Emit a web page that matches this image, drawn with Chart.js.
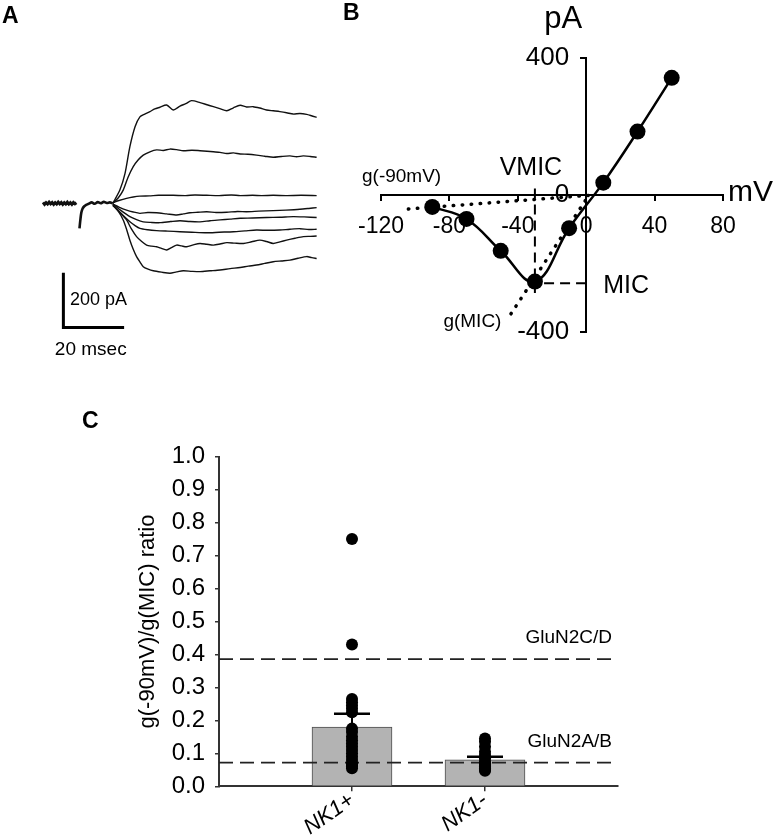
<!DOCTYPE html>
<html><head><meta charset="utf-8">
<script src="https://cdn.jsdelivr.net/npm/chart.js@4.4.0/dist/chart.umd.min.js"></script>
<style>
html,body{margin:0;padding:0;background:#fff;width:780px;height:839px;overflow:hidden;}
canvas{position:absolute;}
#cA{left:0;top:0;} #cB{left:330px;top:0;} #cC{left:0;top:380px;}
</style></head><body>
<canvas id="cA" width="340" height="375"></canvas>
<canvas id="cB" width="450" height="350"></canvas>
<canvas id="cC" width="780" height="459"></canvas>
<script>
// ---------- Panel A: current traces (time ms, current pA) ----------
const baselineTrace = [[0,3],[0.5,-4],[1,2],[1.5,-3],[2,4],[2.5,-2],[3,3],[3.5,-4],[4,2],[4.5,-3],[5,4],[5.5,-2],[6,3],[6.5,-4],[7,2],[7.5,-3],[8,4],[8.5,-3],[9,2],[9.5,-4],[10,3],[10.5,-2],[11,2]];
const onsetTrace = [[12,-92],[12.3,-60],[12.6,-35],[13,-20],[13.5,-12],[14.2,-6],[15,-2],[16,3],[17,-2],[18,4],[19,0],[20,5],[21,1],[22,3],[23,0]];
const trace1 = [[23,0],[25.3,48],[27,109],[28.6,207],[30.3,280],[31.9,316],[33.5,326],[35.2,335],[36.8,345],[38.5,351],[40.7,359],[42.9,341],[45.1,355],[47,364],[48.9,375],[51.7,368],[54,360],[56.1,353],[58.2,346],[60.5,338],[62.7,349],[64.9,358],[67,352],[69.2,353],[71.4,348],[73.6,341],[75.8,338],[78,335],[80.2,331],[82.4,326],[84.6,328],[86.8,325],[88.4,320],[90.1,314]];
const trace2 = [[23,0],[24.8,20],[26.4,48],[28,95],[29.7,134],[31.3,158],[33,176],[35.2,188],[37.4,195],[39.6,193],[41.8,198],[44,196],[46.2,192],[49,194],[51.7,192],[54,190],[56.1,188],[58.3,186],[60.5,182],[62.7,184],[64.9,180],[67.5,179],[70.3,176],[73,172],[75.8,168],[78.5,171],[81.3,173],[83.5,170],[85.7,173],[88,171],[90.1,168]];
const trace3 = [[23,2],[25,10],[27.5,18],[29.7,23],[31.9,26],[35,27],[38,29],[42.9,29],[47,28],[50,30],[53.9,29],[58,28],[62,30],[64.9,28],[69,29],[72,28],[75.8,29],[80,28],[85,29],[90.1,28]];
const trace4 = [[23,-3],[25,-14],[27.5,-25],[29.7,-32],[31.9,-37],[34.5,-34],[37.4,-35],[40.7,-39],[44,-43],[46.2,-39],[48.4,-35],[51,-33],[53.9,-31],[57,-34],[60.5,-33],[64,-30],[67,-31],[71,-29],[75.8,-27],[80,-25],[84.6,-22],[87.5,-19],[90.1,-16]];
const trace5 = [[23,-3],[25.5,-25],[28.6,-49],[30.8,-60],[33,-68],[35.5,-70],[38.5,-71],[42,-67],[45.1,-64],[48.4,-67],[51.7,-68],[55,-64],[58.3,-61],[61.6,-58],[64.9,-55],[69,-54],[73.6,-52],[78,-51],[82.4,-49],[86,-50],[90.1,-52]];
const trace6 = [[23,-5],[25.5,-35],[28.6,-68],[30.3,-82],[31.9,-92],[34.5,-97],[37.4,-100],[41,-102],[45.1,-104],[49,-106],[53.9,-108],[58,-106],[62.7,-104],[66.5,-101],[70.3,-98],[74,-99],[78,-98],[81.3,-95],[84.6,-93],[87.5,-96],[90.1,-95]];
const trace7 = [[23,-6],[25,-30],[27.5,-61],[29,-92],[30.8,-122],[32.5,-140],[34.1,-153],[35.7,-157],[37.4,-159],[39,-165],[40.7,-171],[42.3,-162],[44,-153],[45.6,-156],[47.3,-159],[49.5,-152],[51.7,-147],[53.9,-150],[56.1,-153],[58.3,-149],[60.5,-144],[63.2,-146],[66,-147],[68.7,-141],[71.4,-135],[73.6,-140],[75.8,-147],[78,-141],[80.2,-135],[83,-128],[85.7,-122],[88,-121],[90.1,-120]];
const trace8 = [[23,-8],[24.8,-30],[26.4,-61],[27.5,-95],[28.6,-135],[29.7,-168],[30.8,-195],[32,-216],[33,-232],[34.6,-241],[36.3,-247],[39,-252],[41.8,-256],[44,-251],[46.2,-247],[49,-249],[51.7,-250],[55,-247],[58.3,-244],[61.6,-239],[64.9,-235],[67.6,-230],[70.3,-226],[73,-220],[75.8,-214],[78.5,-211],[81.3,-208],[84,-201],[86.8,-195],[88.5,-199],[90.1,-202]];
const scaleBarAmp = 200;   // pA
const scaleBarTime = 20;   // ms
const scaleBarOrigin = [6.7, -454];

// ---------- Panel B: I-V relation ----------
const ivVoltages = [-90,-70,-50,-30,-10,10,30,50];
const ivCurrents = [-34,-69,-162,-252,-96,37,186,343];
const vmicValue = -30;
const micValue = -257;
const g90Chord = [[-104,-40],[2,0]];
const gMicChord = [[-44,-346],[1,-4]];

// ---------- Panel C: conductance ratio ----------
const groupLabels = ['NK1+','NK1-'];
const meanRatios = [0.18, 0.08];
const semUpper = [0.22, 0.09];
const nk1PosRatios = [0.75,0.43,0.265,0.255,0.245,0.235,0.225,0.175,0.165,0.15,0.14,0.13,0.12,0.11,0.10,0.09,0.08,0.07,0.065,0.06,0.055];
const nk1NegRatios = [0.145,0.135,0.12,0.105,0.095,0.085,0.075,0.07,0.065,0.06,0.055,0.05,0.047];
const gluN2CDLevel = 0.386;
const gluN2ABLevel = 0.072;

const FONT = '"Liberation Sans", Arial, Helvetica, sans-serif';
Chart.defaults.font.family = FONT;
Chart.defaults.color = '#000';
Chart.defaults.animation = false;
Chart.defaults.plugins.legend.display = false;
Chart.defaults.plugins.tooltip.enabled = false;

function drawText(ctx, s, x, y, size, align, base, style) {
  ctx.save();
  ctx.font = (style ? style + ' ' : '') + size + 'px ' + FONT;
  ctx.fillStyle = '#000';
  ctx.textAlign = align || 'left';
  ctx.textBaseline = base || 'alphabetic';
  ctx.fillText(s, x, y);
  ctx.restore();
}
const xy = arr => arr.map(p => ({x: p[0], y: p[1]}));

// ---------- Chart A ----------
const traceSets = [trace1,trace2,trace3,trace4,trace5,trace6,trace7,trace8].map(t => ({
  data: xy(t), borderColor: '#111', borderWidth: 1.4, pointRadius: 0, tension: 0.25
}));
const scaleBarData = [
  {x: scaleBarOrigin[0], y: scaleBarOrigin[1] + scaleBarAmp},
  {x: scaleBarOrigin[0], y: scaleBarOrigin[1]},
  {x: scaleBarOrigin[0] + scaleBarTime, y: scaleBarOrigin[1]}
];
new Chart(document.getElementById('cA'), {
  type: 'line',
  data: { datasets: [
    {data: xy(baselineTrace), borderColor: '#111', borderWidth: 3, pointRadius: 0, tension: 0},
    {data: xy(onsetTrace), borderColor: '#111', borderWidth: 2.6, pointRadius: 0, tension: 0.3},
    ...traceSets,
    {data: scaleBarData, borderColor: '#000', borderWidth: 3, pointRadius: 0, tension: 0, borderJoinStyle: 'miter'}
  ]},
  options: {
    responsive: false,
    layout: {padding: {left: 40, right: 10, top: 90, bottom: 35}},
    scales: {
      x: {type: 'linear', min: -1, max: 94.5, display: false},
      y: {type: 'linear', min: -500, max: 414, display: false}
    }
  },
  plugins: [{id: 'annA', afterDraw(chart) {
    const ctx = chart.ctx, xs = chart.scales.x, ys = chart.scales.y;
    drawText(ctx, 'A', 2, 23, 23, 'left', 'alphabetic', 'bold');
    drawText(ctx, scaleBarAmp + ' pA', xs.getPixelForValue(scaleBarOrigin[0]) + 6.5, ys.getPixelForValue(scaleBarOrigin[1] + scaleBarAmp / 2), 18, 'left', 'middle');
    drawText(ctx, scaleBarTime + ' msec', xs.getPixelForValue(scaleBarOrigin[0] + scaleBarTime / 2) - 3, ys.getPixelForValue(scaleBarOrigin[1]) + 22, 19, 'center', 'middle');
  }}]
});

// ---------- Chart B ----------
new Chart(document.getElementById('cB'), {
  type: 'line',
  data: { datasets: [
    {data: xy(g90Chord), borderColor: '#000', borderWidth: 3.5, borderDash: [0.5, 8.5], borderCapStyle: 'round', pointRadius: 0, order: 3},
    {data: xy(gMicChord), borderColor: '#000', borderWidth: 3.5, borderDash: [0.5, 8.5], borderCapStyle: 'round', pointRadius: 0, order: 3},
    {data: [{x: vmicValue, y: 20}, {x: vmicValue, y: -285}], borderColor: '#000', borderWidth: 2, borderDash: [10, 6], pointRadius: 0, order: 2},
    {data: [{x: vmicValue - 4, y: micValue}, {x: 1, y: micValue}], borderColor: '#000', borderWidth: 2, borderDash: [10, 6], pointRadius: 0, order: 2},
    {data: ivVoltages.map((v, i) => ({x: v, y: ivCurrents[i]})), borderColor: '#000', borderWidth: 2.5,
     pointRadius: 8, pointBackgroundColor: '#000', pointBorderWidth: 0, tension: 0.4, order: 1}
  ]},
  options: {
    responsive: false,
    clip: false,
    layout: {padding: {left: 51, right: 57, top: 58.3, bottom: 17.7}},
    scales: {
      x: {type: 'linear', min: -120, max: 80, position: {y: 0},
          ticks: {stepSize: 40, autoSkip: false, font: {size: 23}, color: '#000', padding: 13, maxRotation: 0},
          grid: {drawOnChartArea: false, tickLength: 5, color: '#000', lineWidth: 2},
          border: {color: '#000', width: 2}},
      y: {type: 'linear', min: -400, max: 400, position: {x: 0},
          ticks: {stepSize: 400, autoSkip: false, display: false},
          grid: {drawOnChartArea: false, tickLength: 5, color: '#000', lineWidth: 2},
          border: {color: '#000', width: 2}}
    }
  },
  plugins: [{id: 'annB', afterDraw(chart) {
    const ctx = chart.ctx, xs = chart.scales.x, ys = chart.scales.y;
    const axisX = xs.getPixelForValue(0);
    ys.ticks.forEach(t => drawText(ctx, String(t.value), axisX - 17, ys.getPixelForValue(t.value), 26, 'right', 'middle'));
    drawText(ctx, 'B', 13, 20, 23, 'left', 'alphabetic', 'bold');
    drawText(ctx, 'pA', axisX - 23, ys.getPixelForValue(400) - 30, 31, 'center');
    drawText(ctx, 'mV', xs.getPixelForValue(80) + 5, ys.getPixelForValue(0) + 6, 30, 'left');
    drawText(ctx, 'VMIC', xs.getPixelForValue(vmicValue) - 4, ys.getPixelForValue(0) - 20, 25, 'center');
    drawText(ctx, 'MIC', axisX + 17, ys.getPixelForValue(micValue) + 10, 25, 'left');
    drawText(ctx, 'g(-90mV)', xs.getPixelForValue(-120) - 19, ys.getPixelForValue(0) - 13, 19, 'left');
    drawText(ctx, 'g(MIC)', xs.getPixelForValue(-80) - 6, ys.getPixelForValue(-400) - 5, 19, 'left');
  }}]
});

// ---------- Chart C ----------
const catLabels = ['', groupLabels[0], groupLabels[1], ' '];
new Chart(document.getElementById('cC'), {
  type: 'bar',
  data: {
    labels: catLabels,
    datasets: [
      {type: 'bar', data: [null, meanRatios[0], meanRatios[1], null], backgroundColor: '#b3b3b3', borderColor: '#4d4d4d', borderWidth: 1, barThickness: 80, order: 6},
      {type: 'line', data: catLabels.map(() => gluN2CDLevel), borderColor: '#222', borderWidth: 1.8, borderDash: [14, 7], pointRadius: 0, order: 5},
      {type: 'line', data: catLabels.map(() => gluN2ABLevel), borderColor: '#222', borderWidth: 1.8, borderDash: [14, 7], pointRadius: 0, order: 5},
      {type: 'line', showLine: false, data: nk1PosRatios.map(v => ({x: groupLabels[0], y: v})), pointRadius: 6, pointBackgroundColor: '#000', pointBorderWidth: 0, order: 3},
      {type: 'line', showLine: false, data: nk1NegRatios.map(v => ({x: groupLabels[1], y: v})), pointRadius: 6, pointBackgroundColor: '#000', pointBorderWidth: 0, order: 3},
      {type: 'line', data: [{x: groupLabels[0], y: meanRatios[0]}, {x: groupLabels[0], y: semUpper[0]}], borderColor: '#000', borderWidth: 2, pointRadius: 0, order: 2},
      {type: 'line', data: [{x: groupLabels[1], y: meanRatios[1]}, {x: groupLabels[1], y: semUpper[1]}], borderColor: '#000', borderWidth: 2, pointRadius: 0, order: 2},
      {type: 'line', showLine: false, data: groupLabels.map((g, i) => ({x: g, y: semUpper[i]})), pointStyle: 'line', pointRadius: 18, pointBorderWidth: 2.5, pointBorderColor: '#000', order: 1}
    ]
  },
  options: {
    responsive: false,
    layout: {padding: {left: 119, right: 162, top: 76.7, bottom: 2.7}},
    scales: {
      x: {type: 'category', offset: false,
          grid: {offset: false, drawOnChartArea: false, tickLength: 5,
                 color: c => (c.index === 1 || c.index === 2) ? '#333' : 'rgba(0,0,0,0)', lineWidth: 1.5},
          border: {color: '#333', width: 2},
          ticks: {autoSkip: false, minRotation: 35, maxRotation: 35, padding: -4, font: {size: 22, style: 'italic'}, color: '#000'},
          afterFit: s => { s.height = 50; }},
      y: {type: 'linear', min: 0, max: 1,
          ticks: {stepSize: 0.1, font: {size: 24}, color: '#000', padding: 10, callback: v => Number(v).toFixed(1)},
          grid: {drawOnChartArea: false, tickLength: 4, color: '#333', lineWidth: 1.5},
          border: {color: '#333', width: 2},
          title: {display: true, text: 'g(-90mV)/g(MIC) ratio', font: {size: 22}, color: '#000', padding: {top: 16, bottom: 0}},
          afterFit: s => { s.width = 100; }}
    }
  },
  plugins: [{id: 'annC', afterDraw(chart) {
    const ctx = chart.ctx, ys = chart.scales.y, area = chart.chartArea;
    drawText(ctx, 'C', 82, 48, 23, 'left', 'alphabetic', 'bold');
    drawText(ctx, 'GluN2C/D', area.right - 6, ys.getPixelForValue(gluN2CDLevel) - 16, 19, 'right');
    drawText(ctx, 'GluN2A/B', area.right - 6, ys.getPixelForValue(gluN2ABLevel) - 16, 19, 'right');
  }}]
});
</script>
</body></html>
